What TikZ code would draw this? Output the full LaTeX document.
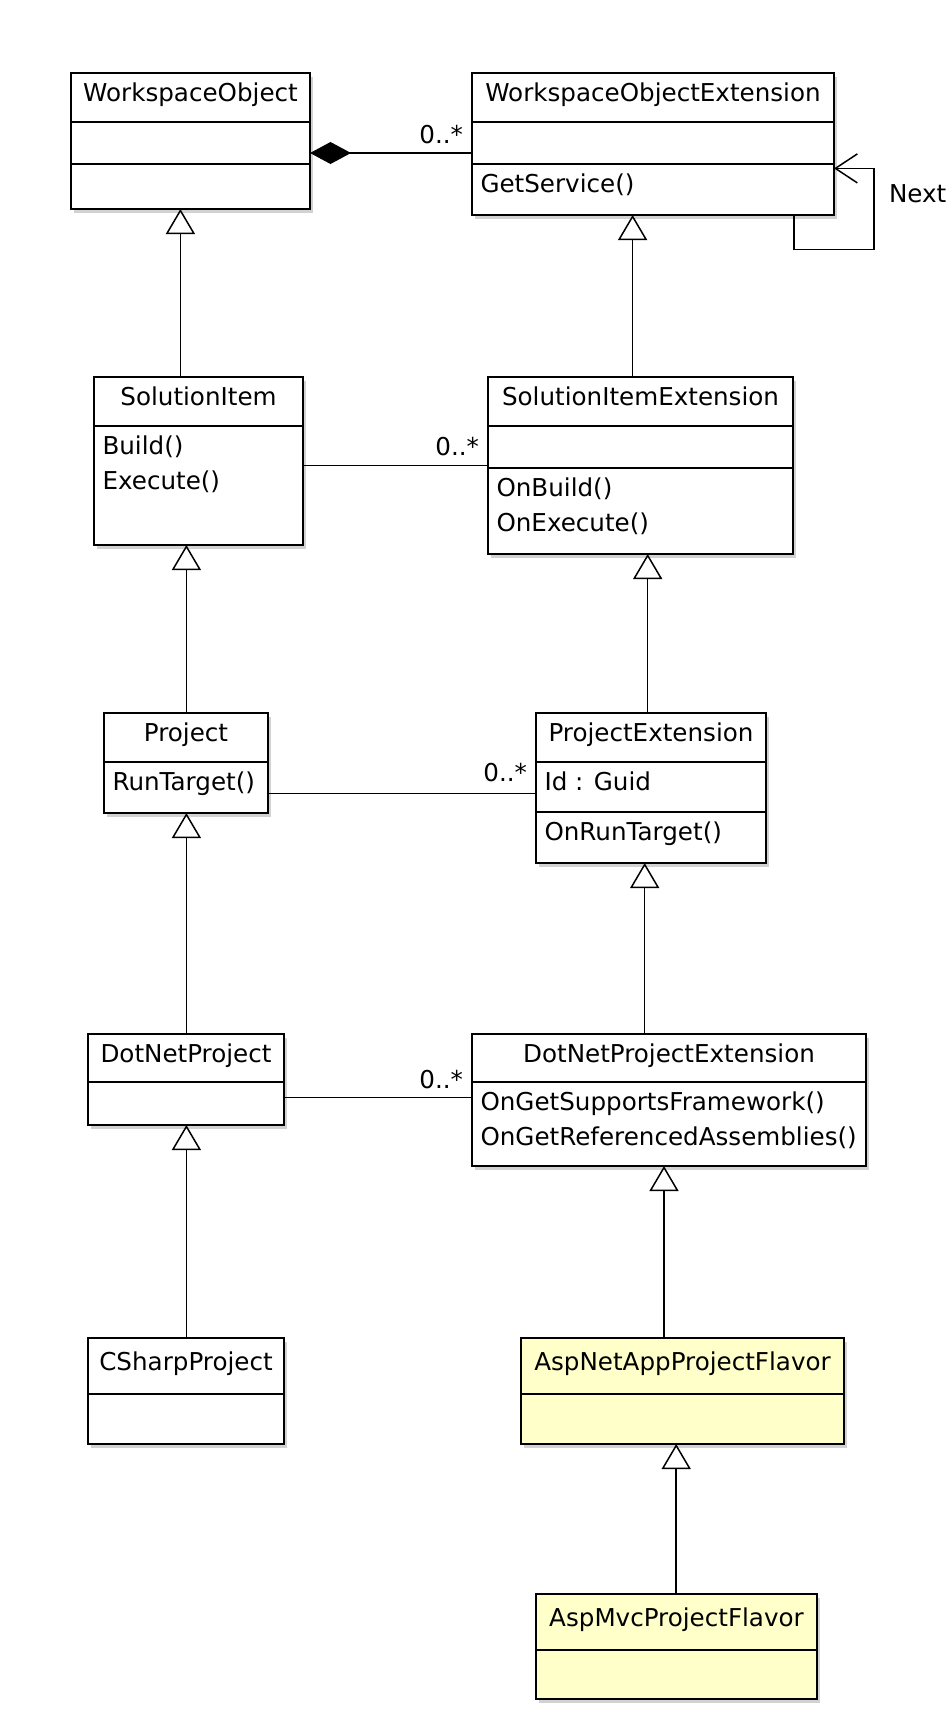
\documentclass[tikz,border=0pt]{standalone}
\usepackage{fontspec}
\setmainfont{DejaVu Sans}
\usetikzlibrary{arrows.meta,calc,shadows}
\definecolor{flavor}{RGB}{255,255,202}
\begin{document}
\begin{tikzpicture}[x=1pt,y=-1pt,
  cls/.style={draw, line width=2pt, fill=white, inner sep=0pt, outer sep=0pt, anchor=north west,
    drop shadow={shadow xshift=3pt, shadow yshift=-3.5pt, fill=black!35, opacity=0.5}},
  divider/.style={line width=2pt},
  txt/.style={inner sep=0pt, outer sep=0pt, font=\fontsize{24.6}{30}\selectfont},
  ctitle/.style={txt, anchor=base},
  meth/.style={txt, anchor=base west},
  mult/.style={txt, anchor=base east},
  assoc/.style={line width=1.5pt},
  inh/.style={line width=1.5pt, -{Triangle[open, length=25pt, width=29pt]}},
]
\useasboundingbox (0,0) rectangle (949,1725);

% ---------- class boxes ----------
\node[cls, minimum width=239, minimum height=136] (WO)   at (71,73) {};
\node[cls, minimum width=362, minimum height=142] (WOE)  at (472,73) {};
\node[cls, minimum width=209, minimum height=168] (SI)   at (94,377) {};
\node[cls, minimum width=305, minimum height=177] (SIE)  at (488,377) {};
\node[cls, minimum width=164, minimum height=100] (P)    at (104,713) {};
\node[cls, minimum width=230, minimum height=150] (PE)   at (536,713) {};
\node[cls, minimum width=196, minimum height=91]  (DNP)  at (88,1034) {};
\node[cls, minimum width=394, minimum height=132] (DNPE) at (472,1034) {};
\node[cls, minimum width=196, minimum height=106] (CS)   at (88,1338) {};
\node[cls, minimum width=323, minimum height=106, fill=flavor] (ANA)  at (521,1338) {};
\node[cls, minimum width=281, minimum height=105, fill=flavor] (AMVC) at (536,1594) {};

% ---------- compartment dividers ----------
\foreach \b/\d in {WO/49, WO/91, WOE/49, WOE/91, SI/49, SIE/49, SIE/91, P/49, PE/49, PE/99,
                   DNP/48, DNPE/48, CS/56, ANA/56, AMVC/56}
  \draw[divider] ($(\b.north west)+(0,\d)$) -- ($(\b.north east)+(0,\d)$);

% ---------- titles ----------
\node[ctitle] (WOt)   at ($(WO.north)+(0,28.5)$)   {WorkspaceObject};
\node[ctitle] (WOEt)  at ($(WOE.north)+(0,28.5)$)  {WorkspaceObjectExtension};
\node[ctitle] (SIt)   at ($(SI.north)+(0,28.5)$)   {SolutionItem};
\node[ctitle] (SIEt)  at ($(SIE.north)+(0,28.5)$)  {SolutionItemExtension};
\node[ctitle] (Pt)    at ($(P.north)+(0,28.5)$)    {Project};
\node[ctitle] (PEt)   at ($(PE.north)+(0,28.5)$)   {ProjectExtension};
\node[ctitle] (DNPt)  at ($(DNP.north)+(0,28.5)$)  {DotNetProject};
\node[ctitle] (DNPEt) at ($(DNPE.north)+(0,28.5)$) {DotNetProjectExtension};
\node[ctitle] (CSt)   at ($(CS.north)+(0,32)$)     {CSharpProject};
\node[ctitle] (ANAt)  at ($(ANA.north)+(0,32)$)    {AspNetAppProjectFlavor};
\node[ctitle] (AMVCt) at ($(AMVC.north)+(0,32.5)$) {AspMvcProjectFlavor};

% ---------- members ----------
\node[meth] (m1) at ($(WOE.north west)+(8.5,119.5)$)  {GetService()};
\node[meth] (m2) at ($(SI.north west)+(8.5,77.5)$)    {Build()};
\node[meth] (m3) at ($(SI.north west)+(8.5,112)$)     {Execute()};
\node[meth] (m4) at ($(SIE.north west)+(8.5,119.5)$)  {OnBuild()};
\node[meth] (m5) at ($(SIE.north west)+(8.5,154)$)    {OnExecute()};
\node[meth] (m6) at ($(P.north west)+(8.5,77.5)$)     {RunTarget()};
\node[meth] (m7) at ($(PE.north west)+(8.5,77.5)$)    {Id : Guid};
\node[meth] (m8) at ($(PE.north west)+(8.5,127.5)$)   {OnRunTarget()};
\node[meth] (m9) at ($(DNPE.north west)+(8.5,76.5)$)  {OnGetSupportsFramework()};
\node[meth] (m10) at ($(DNPE.north west)+(8.5,111)$)  {OnGetReferencedAssemblies()};

% ---------- composition ----------
\coordinate (c0) at ($(WOE.north west)+(0,80)$);
\draw[assoc, -{Diamond[length=41pt, width=22pt]}] (c0) -- (c0 -| WO.east);
\node[mult] (mu0) at ($(WOE.north west)+(-9,70)$) {0..*};

% ---------- self association "Next" ----------
\draw[assoc, -{Straight Barb[length=22pt, width=29pt]}]
  ($(WOE.south east)+(-40,0)$) |- ($(WOE.south east)+(40,34.5)$) |- ($(WOE.north east)+(0,95.4)$);
\node[txt, anchor=base west] (next) at ($(WOE.south east)+(55,-13)$) {Next};

% ---------- associations ----------
\coordinate (c1) at ($(SIE.north west)+(0,88.7)$);
\draw[assoc] (c1) -- (c1 -| SI.east);
\node[mult] (mu1) at ($(SIE.north west)+(-9,78)$) {0..*};

\coordinate (c2) at ($(PE.north west)+(0,80.3)$);
\draw[assoc] (c2) -- (c2 -| P.east);
\node[mult] (mu2) at ($(PE.north west)+(-9,68)$) {0..*};

\coordinate (c3) at ($(DNPE.north west)+(0,63.5)$);
\draw[assoc] (c3) -- (c3 -| DNP.east);
\node[mult] (mu3) at ($(DNPE.north west)+(-9,54)$) {0..*};

% ---------- generalisations ----------
\coordinate (g1) at ($(SI.north west)+(86.4,0)$);
\draw[inh] (g1) -- (g1 |- WO.south);
\coordinate (g2) at ($(SIE.north west)+(144.6,0)$);
\draw[inh] (g2) -- (g2 |- WOE.south);
\coordinate (g3) at ($(P.north west)+(82.4,0)$);
\draw[inh] (g3) -- (g3 |- SI.south);
\coordinate (g4) at ($(PE.north west)+(111.7,0)$);
\draw[inh] (g4) -- (g4 |- SIE.south);
\coordinate (g5) at ($(DNP.north west)+(98.4,0)$);
\draw[inh] (g5) -- (g5 |- P.south);
\coordinate (g6) at ($(DNPE.north west)+(172.7,0)$);
\draw[inh] (g6) -- (g6 |- PE.south);
\coordinate (g7) at ($(CS.north west)+(98.4,0)$);
\draw[inh] (g7) -- (g7 |- DNP.south);
\coordinate (g8) at ($(ANA.north west)+(143,0)$);
\draw[inh] (g8) -- (g8 |- DNPE.south);
\coordinate (g9) at ($(AMVC.north west)+(140.2,0)$);
\draw[inh] (g9) -- (g9 |- ANA.south);
\end{tikzpicture}
\end{document}
